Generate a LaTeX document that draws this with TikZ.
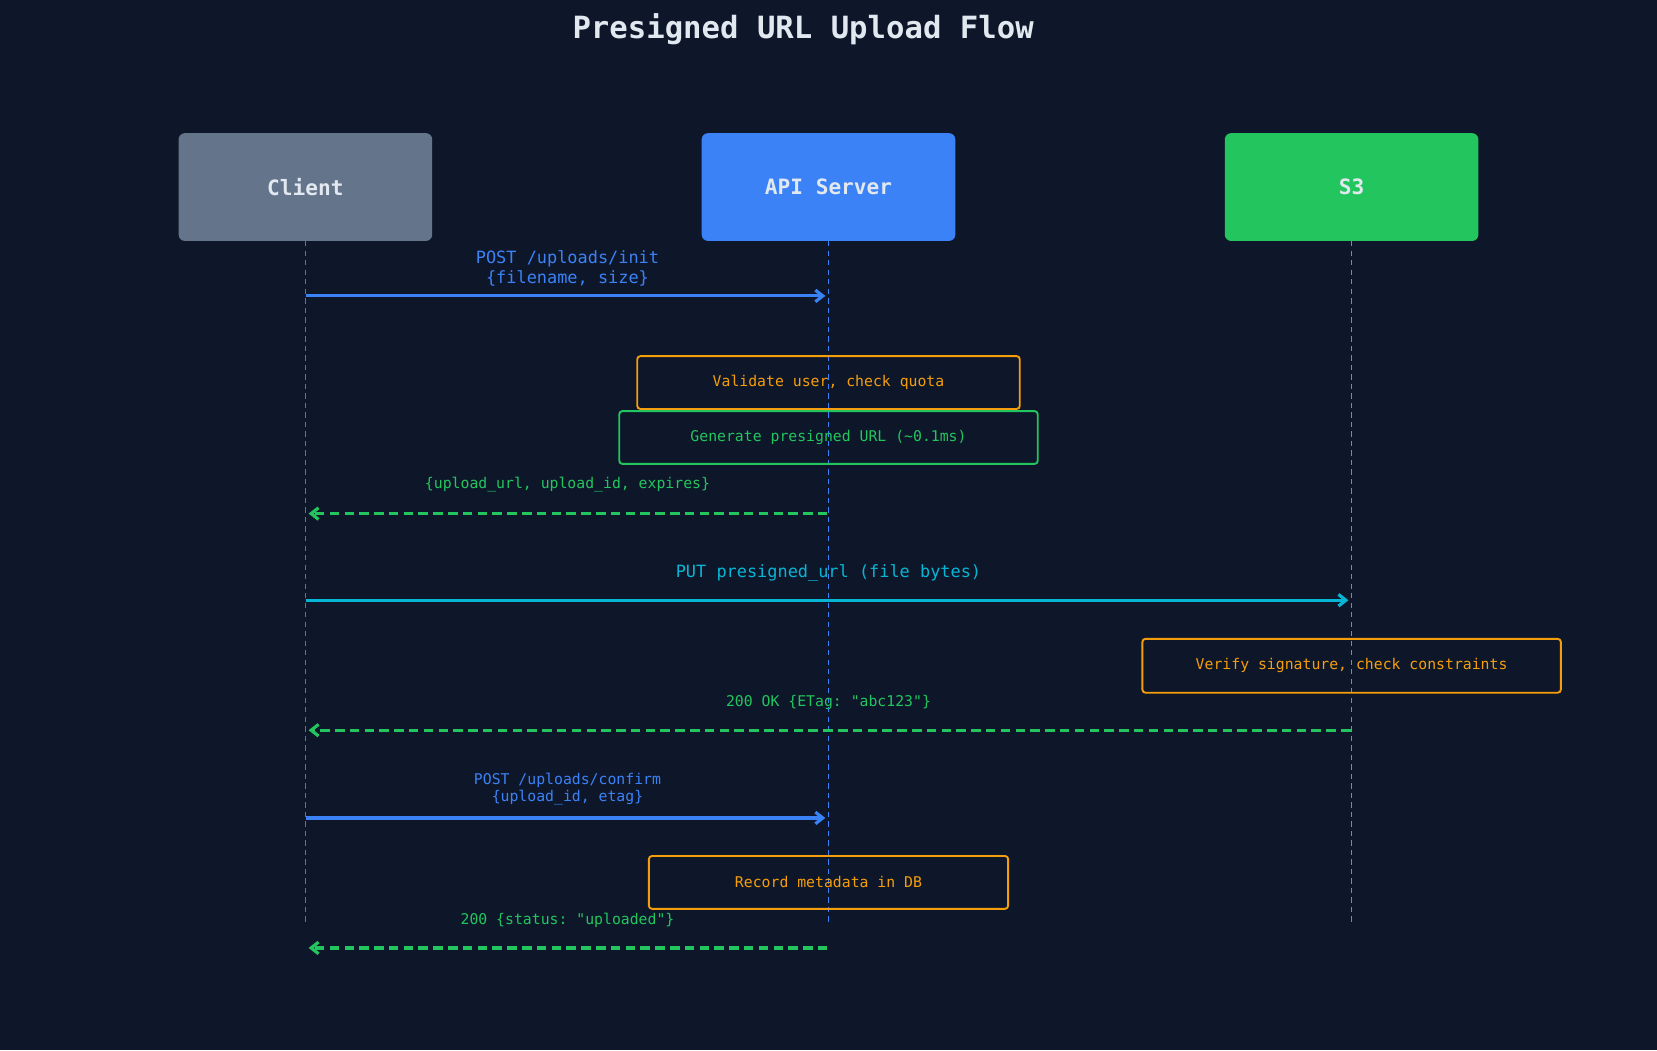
\documentclass[tikz,border=0pt]{standalone}
\usepackage{fontspec}
\setmonofont{DejaVu Sans Mono}
\usetikzlibrary{arrows.meta}
\definecolor{bg}{HTML}{0E172A}
\definecolor{slate}{HTML}{64748B}
\definecolor{blue}{HTML}{3B82F6}
\definecolor{green}{HTML}{22C55E}
\definecolor{cyan}{HTML}{06B6D4}
\definecolor{orange}{HTML}{F59E0B}
\definecolor{txt}{HTML}{E2E8F0}
\tikzset{
 actor/.style={rounded corners=6pt,minimum width=240pt,minimum height=102pt,inner sep=0,text=txt,font=\ttfamily\bfseries\fontsize{20}{24}\selectfont},
 life/.style={line width=1.5pt,dash pattern=on 5pt off 4pt},
 msg/.style={line width=3pt,shorten >=3pt,shorten <=1pt,-{Straight Barb[length=7pt,width=11pt]}},
 ret/.style={msg,dash pattern=on 9pt off 5pt},
 note/.style={draw=orange,text=orange,rounded corners=3pt,line width=1.8pt,inner sep=0,font=\ttfamily\fontsize{14}{16}\selectfont},
 lbl/.style={font=\ttfamily\fontsize{16}{19}\selectfont,align=center,inner sep=0},
 slbl/.style={font=\ttfamily\fontsize{14}{16}\selectfont,align=center,inner sep=0},
}
\begin{document}
\begin{tikzpicture}[x=1pt,y=-1pt]
\fill[bg] (0,0) rectangle (1568,994);
\useasboundingbox (0,0) rectangle (1568,994);
\node[text=txt,font=\ttfamily\bfseries\fontsize{29}{33}\selectfont] (title) at (760,28) {Presigned URL Upload Flow};
\node[actor,fill=slate] (c) at (289,177) {Client};
\node[actor,fill=blue] (a) at (784,177) {API Server};
\node[actor,fill=green] (s) at (1279,177) {S3};
\coordinate (ce) at (289,873); \coordinate (ae) at (784,873); \coordinate (se) at (1279,873);
\draw[life,slate] (c.south) -- (ce);
\draw[life,blue] (a.south) -- (ae);
\draw[life,green] (s.south) -- (se);
\coordinate (c1) at (289,280); \coordinate (a1) at (784,280);
\draw[msg,blue] (c1) -- (a1);
\node[lbl,text=blue] (l1) at (537,254) {POST /uploads/init\\\{filename, size\}};
\node[note,minimum width=362pt,minimum height=50pt] (n1) at (784,362) {Validate user, check quota};
\node[note,draw=green,text=green,minimum width=396pt,minimum height=50pt] (n2) at (784,414) {Generate presigned URL (\textasciitilde0.1ms)};
\coordinate (a2) at (784,486); \coordinate (c2) at (289,486);
\draw[ret,green] (a2) -- (c2);
\node[slbl,text=green] (l2) at (537,459) {\{upload\_url, upload\_id, expires\}};
\coordinate (c3) at (289,568); \coordinate (s3) at (1279,568);
\draw[msg,cyan] (c3) -- (s3);
\node[lbl,text=cyan] (l3) at (784,542) {PUT presigned\_url (file bytes)};
\node[note,minimum width=396pt,minimum height=51pt] (n3) at (1279,630) {Verify signature, check constraints};
\coordinate (s4) at (1279,691); \coordinate (c4) at (289,691);
\draw[ret,green] (s4) -- (c4);
\node[slbl,text=green] (l4) at (784,665) {200 OK \{ETag: "abc123"\}};
\coordinate (c5) at (289,774); \coordinate (a5) at (784,774);
\draw[msg,blue] (c5) -- (a5);
\node[slbl,text=blue] (l5) at (537,747) {POST /uploads/confirm\\\{upload\_id, etag\}};
\node[note,minimum width=340pt,minimum height=50pt] (n4) at (784,835) {Record metadata in DB};
\coordinate (a6) at (784,897); \coordinate (c6) at (289,897);
\draw[ret,green] (a6) -- (c6);
\node[slbl,text=green] (l6) at (537,871) {200 \{status: "uploaded"\}};
\end{tikzpicture}
\end{document}
